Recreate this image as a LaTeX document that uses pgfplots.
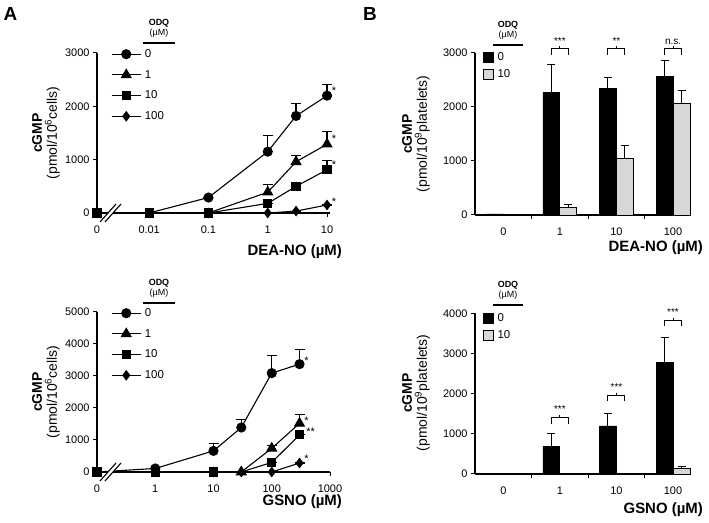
\documentclass[border=0pt]{standalone}
\usepackage{fontspec}
\setmainfont{Liberation Sans}
\usepackage{pgfplots}
\pgfplotsset{compat=1.18}
\definecolor{bargray}{RGB}{215,215,215}
\tikzset{sig/.style={anchor=base, inner sep=0pt, font=\fontsize{10}{11}\selectfont}}
\pgfplotsset{
  base/.style={
    scale only axis, clip=false,
    axis x line*=bottom, axis y line*=left,
    axis line style={line width=1.1bp, black},
    tick style={black, line width=1bp},
    major tick length=4bp, tick align=outside,
    tick label style={font=\fontsize{11}{12}\selectfont},
    /pgf/number format/assume math mode=true,
    /pgf/number format/1000 sep={},
    scaled y ticks=false,
    ymin=0,
    xticklabel style={yshift=-5bp},
  },
  lineA/.style={base, width=233bp, height=160bp,
    legend style={at={(axis description cs:0,1)}, anchor=north west, xshift=14bp, yshift=9.35bp,
      draw=none, fill=none, inner sep=0pt, font=\fontsize{11.5}{12}\selectfont,
      nodes={inner ysep=0pt, inner xsep=3.5bp, minimum height=20.7bp}, row sep=0pt},
    legend cell align=left,
    legend image code/.code={\draw[##1, mark indices={2}] plot coordinates {(0bp,0bp) (14.5bp,0bp) (29bp,0bp)};},
    every axis plot/.append style={black, line width=1.1bp, mark options={solid, fill=black},
      error bars/y dir=plus, error bars/y explicit, error bars/error bar style={line width=1.1bp},
      error bars/error mark options={rotate=90, line width=1.1bp, mark size=5bp}},
  },
  barB/.style={base, width=215bp, xmin=-0.5, xmax=3.3,
    xtick={0,1,2,3}, xticklabels={0,1,10,100},
    minor xtick={0.5,1.5,2.5}, minor tick length=4bp,
    major x tick style={draw=none},
    legend style={at={(axis description cs:0,1)}, anchor=north west, xshift=8bp, yshift=4bp,
      draw=none, fill=none, inner sep=0pt, font=\fontsize{11.5}{12}\selectfont,
      nodes={inner ysep=0pt, inner xsep=3.5bp, minimum height=17bp}, row sep=0pt},
    legend cell align=left,
  },
  blackbar/.style={ybar, bar width=0.3, bar shift=-0.15, fill=black, draw=black, line width=0.8bp,
    legend image code/.code={\draw[##1] (0bp,-5bp) rectangle (10bp,5bp);}},
  graybar/.style={ybar, bar width=0.3, bar shift=0.15, fill=bargray, draw=black, line width=0.8bp,
    legend image code/.code={\draw[##1] (0bp,-5bp) rectangle (10bp,5bp);}},
  errB/.style={forget plot, draw=none, mark=none,
    error bars/y dir=plus, error bars/y explicit,
    error bars/error bar style={draw=black, line width=1bp},
    error bars/error mark options={rotate=90, draw=black, line width=1bp, mark size=4bp}},
}
\begin{document}
\begin{tikzpicture}[x=1bp,y=1bp]
\useasboundingbox (0,0) rectangle (709,523);

% ---------------- Panel A top (DEA-NO) ----------------
\begin{axis}[lineA, at={(97bp,310bp)}, anchor=south west,
  xmin=-0.88, xmax=3.05, ymax=3000, ytick={0,1000,2000,3000},
  xtick={-0.88,0,1,2,3}, xticklabels={0,0.01,0.1,1,10}]
\addplot[mark=*, mark size=4.5bp, mark indices={3,4,5,6}] coordinates {(-0.88,0) +- (0,0) (0,0) +- (0,0) (1,290) +- (0,0) (2,1150) +- (0,300) (2.477,1820) +- (0,225) (3,2200) +- (0,213)};
\addlegendentry{0}
\addplot[mark=triangle*, mark size=5.5bp, mark indices={4,5,6}] coordinates {(-0.88,0) +- (0,0) (0,0) +- (0,0) (1,0) +- (0,0) (2,390) +- (0,140) (2.477,960) +- (0,120) (3,1290) +- (0,230)};
\addlegendentry{1}
\addplot[mark=square*, mark size=4bp] coordinates {(-0.88,0) +- (0,0) (0,0) +- (0,0) (1,0) +- (0,0) (2,180) +- (0,0) (2.477,500) +- (0,0) (3,810) +- (0,180)};
\addlegendentry{10}
\addplot[mark=diamond*, mark size=4.5bp] coordinates {(-0.88,0) +- (0,0) (0,0) +- (0,0) (1,0) +- (0,0) (2,0) +- (0,0) (2.477,35) +- (0,0) (3,150) +- (0,0)};
\addlegendentry{100}
\node[font=\fontsize{11}{12}\selectfont, inner sep=0pt, xshift=7bp, yshift=4.5bp] at (axis cs:3,2200) {*};
\node[font=\fontsize{11}{12}\selectfont, inner sep=0pt, xshift=7bp, yshift=5.5bp] at (axis cs:3,1290) {*};
\node[font=\fontsize{11}{12}\selectfont, inner sep=0pt, xshift=7bp, yshift=5bp] at (axis cs:3,810) {*};
\node[font=\fontsize{11}{12}\selectfont, inner sep=0pt, xshift=7bp, yshift=3bp] at (axis cs:3,150) {*};
\end{axis}

% ---------------- Panel A bottom (GSNO) ----------------
\begin{axis}[lineA, at={(97bp,51bp)}, anchor=south west,
  xmin=-1, xmax=3, ymax=5000, ytick={0,1000,2000,3000,4000,5000},
  xtick={-1,0,1,2,3}, xticklabels={0,1,10,100,1000}]
\addplot[mark=*, mark size=4.5bp, mark indices={2,3,4,5,6}] coordinates {(-1,0) +- (0,0) (0,110) +- (0,0) (1,660) +- (0,240) (1.477,1390) +- (0,260) (2,3090) +- (0,540) (2.477,3370) +- (0,450)};
\addlegendentry{0}
\addplot[mark=triangle*, mark size=5.5bp, mark indices={4,5,6}] coordinates {(-1,0) +- (0,0) (0,0) +- (0,0) (1,0) +- (0,0) (1.477,0) +- (0,0) (2,740) +- (0,75) (2.477,1520) +- (0,265)};
\addlegendentry{1}
\addplot[mark=square*, mark size=4bp, mark indices={1,2,3,5,6}] coordinates {(-1,0) +- (0,0) (0,0) +- (0,0) (1,0) +- (0,0) (1.477,0) +- (0,0) (2,300) +- (0,0) (2.477,1160) +- (0,0)};
\addlegendentry{10}
\addplot[mark=diamond*, mark size=4.5bp] coordinates {(-1,0) +- (0,0) (0,0) +- (0,0) (1,0) +- (0,0) (1.477,0) +- (0,0) (2,0) +- (0,0) (2.477,280) +- (0,0)};
\addlegendentry{100}
\node[font=\fontsize{11}{12}\selectfont, inner sep=0pt, xshift=7bp, yshift=3bp] at (axis cs:2.477,3370) {*};
\node[font=\fontsize{11}{12}\selectfont, inner sep=0pt, xshift=7bp, yshift=3bp] at (axis cs:2.477,1520) {*};
\node[font=\fontsize{11}{12}\selectfont, inner sep=0pt, xshift=11bp, yshift=3bp] at (axis cs:2.477,1160) {**};
\node[font=\fontsize{11}{12}\selectfont, inner sep=0pt, xshift=7bp, yshift=4.5bp] at (axis cs:2.477,280) {*};
\end{axis}

% ---------------- Panel B top (DEA-NO) ----------------
\begin{axis}[barB, at={(475bp,308bp)}, anchor=south west, height=162bp,
  ymax=3000, ytick={0,1000,2000,3000}]
\addplot[blackbar] coordinates {(0,20) (1,2270) (2,2340) (3,2570)};
\addlegendentry{0}
\addplot[graybar] coordinates {(0,10) (1,136) (2,1045) (3,2072)};
\addlegendentry{10}
\addplot[errB] coordinates {(0.85,2270) +- (0,510) (1.85,2340) +- (0,200) (2.85,2570) +- (0,290)};
\addplot[errB] coordinates {(1.15,136) +- (0,55) (2.15,1045) +- (0,240) (3.15,2072) +- (0,235)};
\draw[line width=1bp] (axis cs:0.85,2968) -- (axis cs:0.85,3074) -- (axis cs:1.15,3074) -- (axis cs:1.15,2968);
\draw[line width=1bp] (axis cs:1,3074) -- (axis cs:1,3122);
\node[sig] at (axis cs:1,3165) {***};
\draw[line width=1bp] (axis cs:1.85,2968) -- (axis cs:1.85,3074) -- (axis cs:2.15,3074) -- (axis cs:2.15,2968);
\draw[line width=1bp] (axis cs:2,3074) -- (axis cs:2,3122);
\node[sig] at (axis cs:2,3165) {**};
\draw[line width=1bp] (axis cs:2.85,2968) -- (axis cs:2.85,3074) -- (axis cs:3.15,3074) -- (axis cs:3.15,2968);
\draw[line width=1bp] (axis cs:3,3074) -- (axis cs:3,3122);
\node[sig] at (axis cs:3,3165) {n.s.};
\end{axis}

% ---------------- Panel B bottom (GSNO) ----------------
\begin{axis}[barB, at={(475bp,49bp)}, anchor=south west, height=160.5bp,
  ymax=4000, ytick={0,1000,2000,3000,4000}]
\addplot[blackbar] coordinates {(0,10) (1,690) (2,1197) (3,2777)};
\addlegendentry{0}
\addplot[graybar] coordinates {(0,20) (1,20) (2,20) (3,133)};
\addlegendentry{10}
\addplot[errB] coordinates {(0.85,690) +- (0,315) (1.85,1197) +- (0,316) (2.85,2777) +- (0,616)};
\addplot[errB] coordinates {(3.15,133) +- (0,57)};
\draw[line width=1bp] (axis cs:0.85,1255) -- (axis cs:0.85,1405) -- (axis cs:1.15,1405) -- (axis cs:1.15,1255);
\draw[line width=1bp] (axis cs:1,1405) -- (axis cs:1,1467);
\node[sig] at (axis cs:1,1530) {***};
\draw[line width=1bp] (axis cs:1.85,1813) -- (axis cs:1.85,1963) -- (axis cs:2.15,1963) -- (axis cs:2.15,1813);
\draw[line width=1bp] (axis cs:2,1963) -- (axis cs:2,2025);
\node[sig] at (axis cs:2,2088) {***};
\draw[line width=1bp] (axis cs:2.85,3684) -- (axis cs:2.85,3834) -- (axis cs:3.15,3834) -- (axis cs:3.15,3684);
\draw[line width=1bp] (axis cs:3,3834) -- (axis cs:3,3896);
\node[sig] at (axis cs:3,3959) {***};
\end{axis}

% ---------------- axis breaks ----------------
\foreach \yy in {310,51}{
  \fill[white] (100,\yy-9) -- (116,\yy+9) -- (121,\yy+9) -- (105,\yy-9) -- cycle;
  \draw[line width=1.1bp] (100,\yy-9) -- (116,\yy+9);
  \draw[line width=1.1bp] (105,\yy-9) -- (121,\yy+9);
}

% ---------------- ODQ legend titles ----------------
\foreach \xx/\yy/\la/\lb in {159/500/143/175, 159/240/143/175, 508/498/493/523, 508/238/493/523}{
  \node[font=\bfseries\fontsize{9}{10}\selectfont, inner sep=0pt] at (\xx,\yy) {ODQ};
  \node[font=\fontsize{9}{10}\selectfont, inner sep=0pt] at (\xx,\yy-10) {(µM)};
  \draw[line width=1.1bp] (\la,\yy-20) -- (\lb,\yy-20);
}

% ---------------- axis labels ----------------
\node[rotate=90, align=center, font=\fontsize{14}{15}\selectfont, inner sep=0pt] at (46,390) {\textbf{cGMP}\\(pmol/10\textsuperscript{6}cells)};
\node[rotate=90, align=center, font=\fontsize{14}{15}\selectfont, inner sep=0pt] at (46,131) {\textbf{cGMP}\\(pmol/10\textsuperscript{6}cells)};
\node[rotate=90, align=center, font=\fontsize{14}{15}\selectfont, inner sep=0pt] at (416,389) {\textbf{cGMP}\\(pmol/10\textsuperscript{9}platelets)};
\node[rotate=90, align=center, font=\fontsize{14}{15}\selectfont, inner sep=0pt] at (416,130) {\textbf{cGMP}\\(pmol/10\textsuperscript{9}platelets)};

\node[anchor=east, font=\bfseries\fontsize{15}{16}\selectfont, inner sep=0pt] at (342,271.3) {DEA-NO (µM)};
\node[anchor=east, font=\bfseries\fontsize{15}{16}\selectfont, inner sep=0pt] at (342,21.3) {GSNO (µM)};
\node[anchor=east, font=\bfseries\fontsize{15}{16}\selectfont, inner sep=0pt] at (703,275) {DEA-NO (µM)};
\node[anchor=east, font=\bfseries\fontsize{15}{16}\selectfont, inner sep=0pt] at (703,13) {GSNO (µM)};

\node[font=\bfseries\fontsize{19}{20}\selectfont, inner sep=0pt] at (10.5,509) {A};
\node[font=\bfseries\fontsize{19}{20}\selectfont, inner sep=0pt] at (370,509.5) {B};
\end{tikzpicture}
\end{document}
